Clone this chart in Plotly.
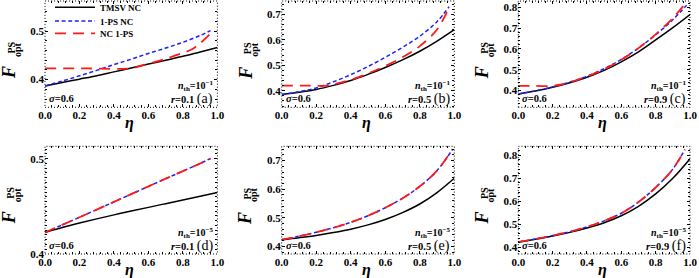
import plotly.graph_objects as go

# ---------------- data ----------------
ETA = [0.0, 0.1, 0.2, 0.3, 0.4, 0.5, 0.6, 0.7, 0.8, 0.9, 1.0]

# panel (a): n_th = 1e-1, r = 0.1
a_tmsv = [0.387, 0.394, 0.401, 0.408, 0.416, 0.424, 0.432, 0.440, 0.448, 0.457, 0.466]
a_ps_eta = [0.0, 0.1, 0.2, 0.3, 0.4, 0.5, 0.6, 0.7, 0.8, 0.9, 0.96]
a_ps = [0.387, 0.397, 0.408, 0.419, 0.431, 0.442, 0.454, 0.465, 0.477, 0.491, 0.501]
a_nc_eta = [0.0, 0.25, 0.49, 0.55, 0.6, 0.7, 0.8, 0.85, 0.9, 0.96]
a_nc = [0.423, 0.423, 0.423, 0.428, 0.433, 0.443, 0.455, 0.462, 0.475, 0.495]

# panel (b): n_th = 1e-1, r = 0.5
b_tmsv = [0.385, 0.394, 0.405, 0.421, 0.440, 0.464, 0.491, 0.521, 0.555, 0.595, 0.640]
b_ps_eta = [0.0, 0.1, 0.2, 0.3, 0.4, 0.5, 0.6, 0.7, 0.8, 0.9, 0.97]
b_ps = [0.385, 0.396, 0.411, 0.435, 0.463, 0.495, 0.531, 0.570, 0.614, 0.671, 0.730]
b_nc_eta = [0.0, 0.15, 0.26, 0.3, 0.4, 0.5, 0.6, 0.7, 0.8, 0.9, 0.97]
b_nc = [0.420, 0.420, 0.420, 0.425, 0.443, 0.468, 0.497, 0.531, 0.575, 0.640, 0.727]

# panel (c): n_th = 1e-1, r = 0.9
c_tmsv = [0.384, 0.398, 0.416, 0.438, 0.464, 0.497, 0.538, 0.586, 0.643, 0.702, 0.765]
c_ps_eta = [0.0, 0.1, 0.2, 0.3, 0.4, 0.5, 0.6, 0.7, 0.8, 0.9, 0.98]
c_ps = [0.384, 0.399, 0.418, 0.441, 0.469, 0.505, 0.550, 0.604, 0.668, 0.740, 0.810]
c_nc_eta = [0.0, 0.1, 0.2, 0.25, 0.3, 0.4, 0.5, 0.6, 0.7, 0.8, 0.9, 0.98]
c_nc = [0.4225, 0.4225, 0.4225, 0.430, 0.440, 0.468, 0.503, 0.548, 0.604, 0.670, 0.748, 0.825]

# panel (d): n_th = 1e-5, r = 0.1
d_tmsv = [0.4226, 0.4277, 0.4324, 0.4368, 0.4410, 0.4450, 0.4489, 0.4528, 0.4566, 0.4605, 0.4646]
d_ps_eta = [0.0, 0.1, 0.2, 0.3, 0.4, 0.5, 0.6, 0.7, 0.8, 0.9, 0.96]
d_ps = [0.4226, 0.4305, 0.4385, 0.4466, 0.4547, 0.4628, 0.4709, 0.4790, 0.4870, 0.4950, 0.5002]
d_nc_eta = d_ps_eta
d_nc = [0.4226, 0.4305, 0.4385, 0.4466, 0.4547, 0.4628, 0.4709, 0.4790, 0.4870, 0.4950, 0.5002]

# panel (e): n_th = 1e-5, r = 0.5
e_tmsv = [0.423, 0.430, 0.438, 0.448, 0.460, 0.475, 0.494, 0.518, 0.548, 0.588, 0.638]
e_ps_eta = [0.0, 0.1, 0.2, 0.3, 0.4, 0.5, 0.6, 0.7, 0.8, 0.9, 0.99]
e_ps = [0.423, 0.435, 0.449, 0.465, 0.484, 0.507, 0.535, 0.568, 0.610, 0.665, 0.740]
e_nc_eta = e_ps_eta
e_nc = [0.423, 0.435, 0.449, 0.465, 0.484, 0.507, 0.535, 0.568, 0.610, 0.665, 0.740]

# panel (f): n_th = 1e-5, r = 0.9
f_tmsv = [0.423, 0.435, 0.449, 0.465, 0.484, 0.507, 0.537, 0.578, 0.632, 0.700, 0.785]
f_ps_eta = [0.0, 0.1, 0.2, 0.3, 0.4, 0.5, 0.6, 0.7, 0.8, 0.9, 0.97]
f_ps = [0.423, 0.436, 0.451, 0.468, 0.489, 0.515, 0.548, 0.597, 0.660, 0.740, 0.825]
f_nc_eta = f_ps_eta
f_nc = [0.423, 0.436, 0.451, 0.468, 0.489, 0.515, 0.548, 0.597, 0.660, 0.740, 0.825]

X_TICKS = [0.0, 0.2, 0.4, 0.6, 0.8, 1.0]
X_TICK_TEXT = ["0.0", "0.2", "0.4", "0.6", "0.8", "1.0"]
SERIES_NAMES = ["TMSV NC", "1-PS NC", "NC 1-PS"]
PANEL_LABELS = ["(a)", "(b)", "(c)", "(d)", "(e)", "(f)"]
NTH_EXP = ["−1", "−1", "−1", "−5", "−5", "−5"]
R_VALUES = ["0.1", "0.5", "0.9", "0.1", "0.5", "0.9"]
SIGMA = "0.6"

# ---------------- layout geometry ----------------
W, H = 699, 278
FONT = "Liberation Serif"
X_PIX = [(45.0, 217.4), (281.7, 454.3), (518.3, 690.0)]
Y_PIX = [(1.0, 107.3), (146.3, 254.0)]
Y_RANGES = [[0.343, 0.562], [0.335, 0.752], [0.32, 0.83],
            [0.39995, 0.513], [0.373, 0.75], [0.371, 0.839]]
Y_MINOR = [0.02, 0.02, 0.02, 0.005, 0.02, 0.02]


def px(x):
    return x / W


def py(y):
    return 1 - y / H


panels = [
    (ETA, a_tmsv, a_ps_eta, a_ps, a_nc_eta, a_nc),
    (ETA, b_tmsv, b_ps_eta, b_ps, b_nc_eta, b_nc),
    (ETA, c_tmsv, c_ps_eta, c_ps, c_nc_eta, c_nc),
    (ETA, d_tmsv, d_ps_eta, d_ps, d_nc_eta, d_nc),
    (ETA, e_tmsv, e_ps_eta, e_ps, e_nc_eta, e_nc),
    (ETA, f_tmsv, f_ps_eta, f_ps, f_nc_eta, f_nc),
]

fig = go.Figure()
layout = dict(width=W, height=H, margin=dict(l=0, r=0, t=0, b=0, autoexpand=False),
              paper_bgcolor="white", plot_bgcolor="white",
              annotations=[], shapes=[])

legend_names = ["legend", "legend2", "legend3"]
legend_rows = [7.3, 21.0, 33.3]

for k, (e0, tm, e1, ps, e2, nc) in enumerate(panels):
    row, col = divmod(k, 3)
    L, R = X_PIX[col]
    T, B = Y_PIX[row]
    xa = "x" if k == 0 else f"x{k+1}"
    ya = "y" if k == 0 else f"y{k+1}"
    xkey = "xaxis" if k == 0 else f"xaxis{k+1}"
    ykey = "yaxis" if k == 0 else f"yaxis{k+1}"
    show = (k == 0)
    fig.add_trace(go.Scatter(x=e0, y=tm, mode="lines", name=SERIES_NAMES[0],
                             line=dict(color="black", width=1.5, shape="spline"),
                             xaxis=xa, yaxis=ya, showlegend=show, legend=legend_names[0]))
    fig.add_trace(go.Scatter(x=e1, y=ps, mode="lines", name=SERIES_NAMES[1],
                             line=dict(color="#1f1fff", width=1.5, dash="4px,2.6px", shape="spline"),
                             xaxis=xa, yaxis=ya, showlegend=show, legend=legend_names[1]))
    fig.add_trace(go.Scatter(x=e2, y=nc, mode="lines", name=SERIES_NAMES[2],
                             line=dict(color="#ff1a1a", width=1.8, dash="11px,7px", shape="spline"),
                             xaxis=xa, yaxis=ya, showlegend=show, legend=legend_names[2]))

    common = dict(ticks="inside", ticklen=3, tickwidth=1, tickcolor="black",
                  mirror="ticks", showline=False, showgrid=False, zeroline=False,
                  tickfont=dict(family=FONT, size=11, color="black", weight="bold"))
    layout[xkey] = dict(domain=[px(L), px(R)], range=[0, 1], anchor=ya,
                        tickvals=X_TICKS, ticktext=X_TICK_TEXT,
                        minor=dict(dtick=0.04, ticklen=2, tickcolor="black", ticks="inside"),
                        **common)
    layout[ykey] = dict(domain=[py(B), py(T)], range=Y_RANGES[k], anchor=xa,
                        dtick=0.1, tick0=0, tickformat=".1f",
                        minor=dict(dtick=Y_MINOR[k], ticklen=2, tickcolor="black", ticks="inside"),
                        **common)
    # dotted frame
    layout["shapes"].append(dict(type="rect", xref=f"{xa} domain", yref=f"{ya} domain",
                                 x0=0, x1=1, y0=0, y1=1,
                                 line=dict(color="black", width=1, dash="1px,2px")))

    ann = layout["annotations"]
    base = dict(xref="paper", yref="paper", showarrow=False)
    # axis title eta
    ann.append(dict(text="<b><i>η</i></b>", x=px((L + R) / 2 - 2), y=py(B + 16),
                    xanchor="center", yanchor="middle",
                    font=dict(family=FONT, size=16, color="black"), **base))
    # y title F^PS_opt
    ann.append(dict(text="<b><i>F</i></b>", x=px(L - 36), y=py(T + 72),
                    xanchor="center", yanchor="middle", textangle=-90,
                    font=dict(family=FONT, size=18, color="black"), **base))
    ann.append(dict(text="<b>PS</b>", x=px(L - 34.5), y=py(T + 47),
                    xanchor="center", yanchor="middle", textangle=-90,
                    font=dict(family=FONT, size=10, color="black"), **base))
    ann.append(dict(text="<b>opt</b>", x=px(L - 27.5), y=py(T + 48.5),
                    xanchor="center", yanchor="middle", textangle=-90,
                    font=dict(family=FONT, size=10, color="black"), **base))
    # in-plot texts
    ann.append(dict(text=f"<b><i>σ</i>=</b><b>{SIGMA}</b>", x=px(L + 2), y=py(B - 9),
                    xanchor="left", yanchor="middle",
                    font=dict(family=FONT, size=10.5, color="black"), **base))
    ann.append(dict(text=f"<b><i>n</i><sub>th</sub>=10<sup>{NTH_EXP[k]}</sup></b>",
                    x=px(R - 2.5), y=py(B - 21.5), xanchor="right", yanchor="middle",
                    font=dict(family=FONT, size=10, color="black"), **base))
    ann.append(dict(text=f"<b><i>r</i>=</b><b>{R_VALUES[k]}</b> <span style='font-size:14px'>{PANEL_LABELS[k]}</span>",
                    x=px(R - 2.5), y=py(B - 8.5), xanchor="right", yanchor="middle",
                    font=dict(family=FONT, size=10.5, color="black"), **base))

for name, yrow in zip(legend_names, legend_rows):
    layout[name] = dict(x=px(50), y=py(yrow), xanchor="left", yanchor="middle",
                        bgcolor="rgba(0,0,0,0)", borderwidth=0, itemwidth=40,
                        font=dict(family=FONT, size=9, color="black", weight="bold"))

fig.update_layout(**layout)
fig.write_html("out.html", config={"displayModeBar": False},
               post_script="document.body.style.margin='0';document.body.style.overflow='hidden';")
